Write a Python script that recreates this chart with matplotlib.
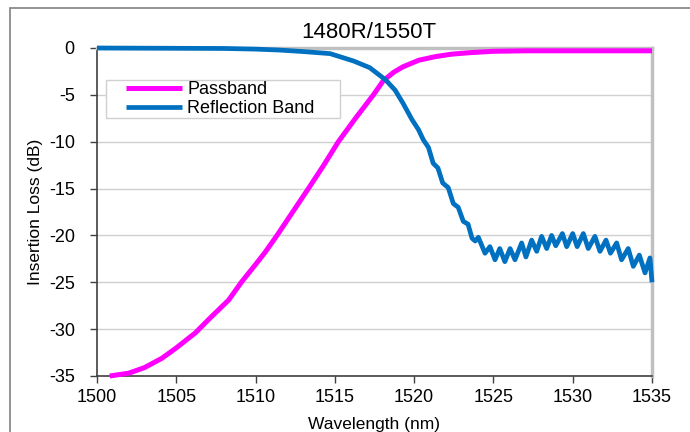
import matplotlib
matplotlib.use("Agg")
import matplotlib.pyplot as plt
from matplotlib.patches import Rectangle

plt.rcParams["font.family"] = ["Liberation Sans", "DejaVu Sans"]
plt.rcParams["axes.unicode_minus"] = False

# ── Daten ──
pass_nm = [1500.8, 1502.0, 1503.0, 1504.1, 1505.0, 1506.2, 1507.2, 1508.3,
           1509.1, 1510.0, 1510.6, 1511.35, 1512.3, 1513.33, 1514.3, 1515.22,
           1516.3, 1517.43, 1518.05, 1518.7, 1519.3, 1520.3, 1521.4, 1522.4,
           1523.5, 1525.0, 1527.0, 1535.0]
pass_db = [-35.0, -34.7, -34.1, -33.1, -32.0, -30.4, -28.7, -26.9,
           -25.0, -23.1, -21.8, -20.0, -17.6, -15.0, -12.5, -10.0,
           -7.5, -5.0, -3.5, -2.6, -2.0, -1.3, -0.9, -0.65,
           -0.5, -0.35, -0.3, -0.3]

refl_nm = [1500.0, 1508.0, 1510.0, 1511.5, 1513.0, 1514.7, 1516.2, 1517.2,
           1518.2, 1518.8, 1519.3, 1519.85, 1520.27, 1520.58, 1520.9, 1521.2,
           1521.5, 1521.8, 1522.15, 1522.47, 1522.78, 1523.1, 1523.4, 1523.65,
           1523.85, 1524.05, 1524.47, 1524.78, 1525.1, 1525.4, 1525.72, 1526.05,
           1526.36, 1526.78, 1527.05, 1527.41, 1527.73, 1528.04, 1528.36, 1528.67,
           1528.93, 1529.35, 1529.62, 1530.0, 1530.28, 1530.67, 1530.98, 1531.4,
           1531.72, 1532.1, 1532.38, 1532.77, 1533.08, 1533.5, 1533.82, 1534.2,
           1534.56, 1534.87, 1535.0]
refl_db = [0.0, -0.05, -0.12, -0.22, -0.38, -0.6, -1.4, -2.1,
           -3.4, -4.5, -5.9, -7.6, -8.7, -9.8, -10.6, -12.3,
           -12.8, -14.4, -14.9, -16.6, -17.0, -18.5, -18.8, -20.3,
           -20.6, -20.2, -21.9, -21.2, -22.6, -21.4, -22.8, -21.4,
           -22.6, -20.8, -22.3, -20.5, -21.7, -20.1, -21.4, -20.0,
           -21.1, -19.8, -21.2, -19.8, -21.2, -19.8, -21.4, -20.1,
           -21.7, -20.5, -21.9, -20.8, -22.6, -21.4, -23.3, -22.1,
           -24.0, -22.4, -25.0]

x_ticks = [1500, 1505, 1510, 1515, 1520, 1525, 1530, 1535]
y_ticks = [0, -5, -10, -15, -20, -25, -30, -35]

W, H = 690, 432
fig = plt.figure(figsize=(6.9, 4.32), dpi=100)
ax = fig.add_axes([97 / W, 1 - 376 / H, (652 - 97) / W, (376 - 48) / H])

# äußerer Rahmen (Diagrammbereich)
fig.patches.append(Rectangle((10 / W, -0.2), 1.2, 1.2 - 8.5 / H,
                             transform=fig.transFigure, fill=False,
                             edgecolor="#808080", linewidth=1.2))

ax.plot(pass_nm, pass_db, color="#FF00FF", linewidth=3.6,
        solid_joinstyle="round", solid_capstyle="butt", label="Passband",
        clip_on=False, zorder=3)
ax.plot(refl_nm, refl_db, color="#0070C0", linewidth=3.4,
        solid_joinstyle="round", solid_capstyle="butt", label="Reflection Band",
        clip_on=False, zorder=4)

ax.set_xlim(1500, 1535)
ax.set_ylim(-35, 0)
ax.set_xticks(x_ticks)
ax.set_yticks(y_ticks)
ax.tick_params(labelsize=13, length=5, width=1, color="#404040", direction="out")
ax.tick_params(axis="y", pad=11)
ax.tick_params(axis="x", pad=4.5)
ax.yaxis.grid(True, color="#d0d0d0", linewidth=1)
ax.set_axisbelow(True)

for side in ["left", "bottom"]:
    ax.spines[side].set_color("#404040")
    ax.spines[side].set_linewidth(1.2)
for side in ["top", "right"]:
    ax.spines[side].set_color("#c0c0c0")
    ax.spines[side].set_linewidth(2.5)

ax.set_xlabel("Wavelength (nm)", fontsize=12.5, labelpad=8)
ax.set_ylabel("Insertion Loss (dB)", fontsize=12.5, labelpad=4)
ax.set_title("1480R/1550T", fontsize=16, pad=7, x=0.49)

# ── Legende: eigener Rahmen, Einträge ohne Rahmen ──
ax.add_patch(Rectangle((106 / W, 1 - 118 / H), (340 - 106) / W, 38 / H,
                       transform=fig.transFigure, facecolor="white",
                       edgecolor="#d0d0d0", linewidth=1, zorder=2,
                       clip_on=False))
leg = ax.legend(loc="upper left", bbox_to_anchor=(126 / W, 1 - 81 / H),
                bbox_transform=fig.transFigure,
                fontsize=13, handlelength=3.1, handletextpad=0.3,
                borderpad=0.0, labelspacing=0.12, borderaxespad=0,
                frameon=False)
leg.set_zorder(5)

fig.savefig("out.png", dpi=100)
